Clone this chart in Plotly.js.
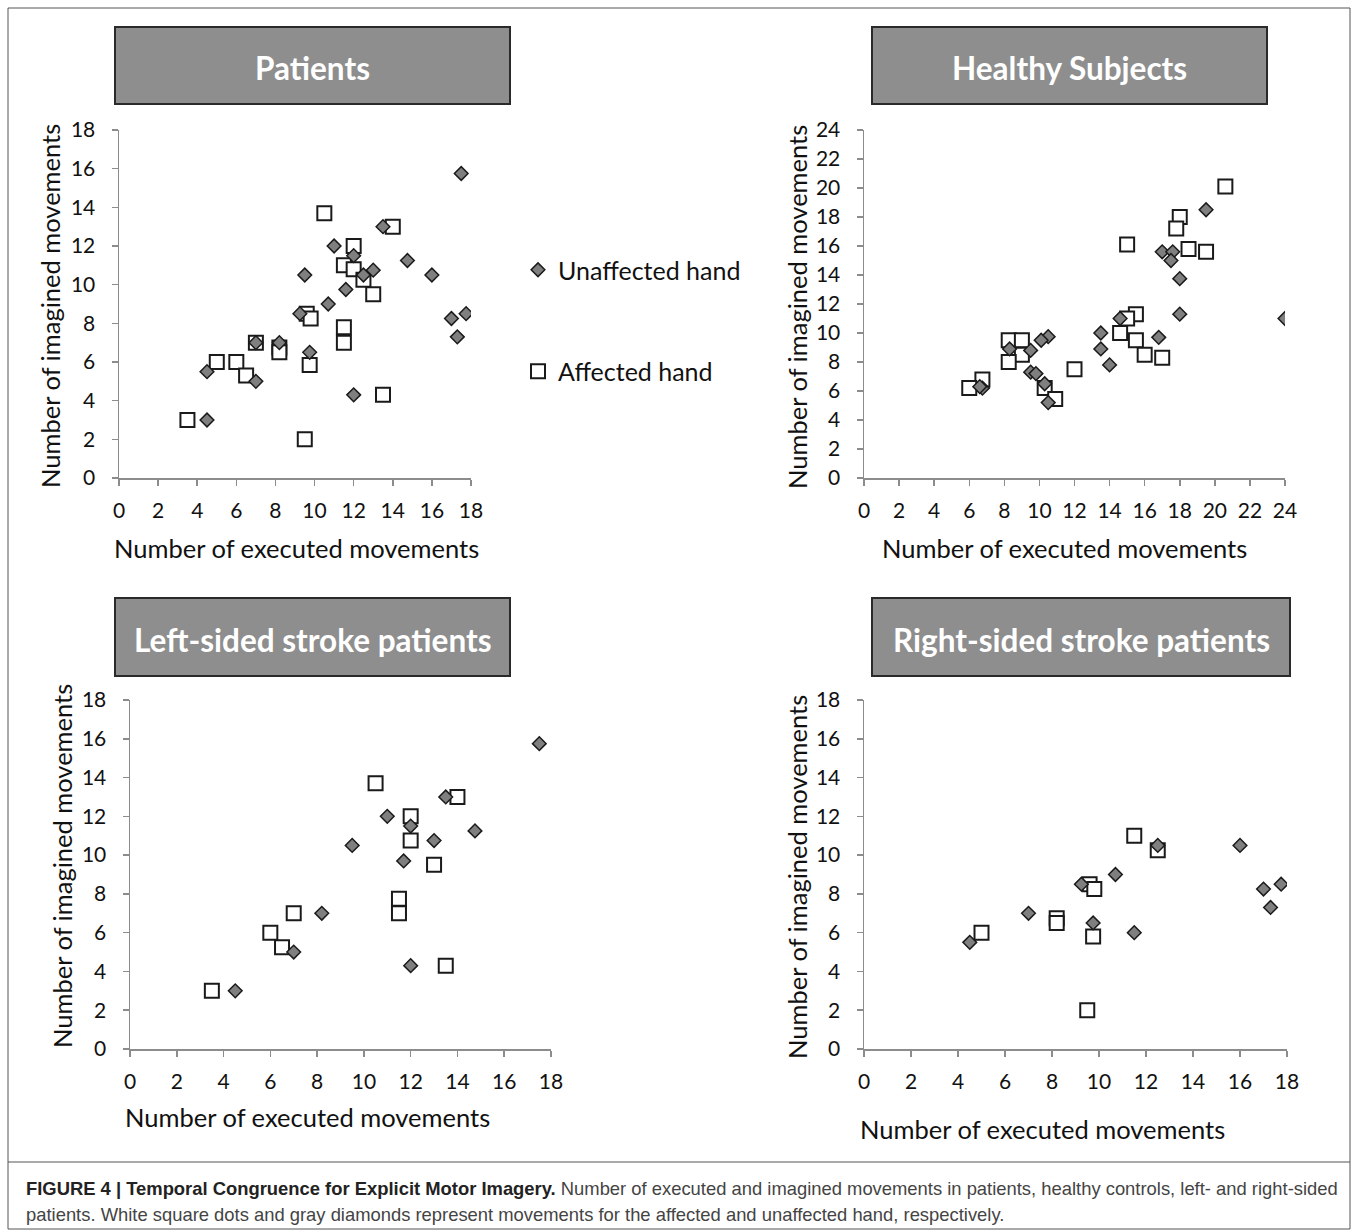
<!DOCTYPE html>
<html>
<head>
<meta charset="utf-8">
<script src="https://cdn.plot.ly/plotly-3.0.1.min.js"></script>
<style>html,body{margin:0;padding:0;background:#fff;}#chart{width:1357px;height:1230px;}</style>
</head>
<body>
<div id="chart"></div>
<script>
// ---------- DATA ----------
const panelTitles = ["Patients", "Healthy Subjects", "Left-sided stroke patients", "Right-sided stroke patients"];
const seriesNames = ["Unaffected hand", "Affected hand"];
const xAxisTitle = "Number of executed movements";
const yAxisTitle = "Number of imagined movements";

// Patients
const patUnaffX = [17.5, 13.5, 11, 12, 14.75, 13, 12.5, 9.5, 16, 11.6, 10.7, 9.25, 17.75, 17, 17.3, 7, 8.2, 9.75, 4.5, 7, 12, 4.5];
const patUnaffY = [15.75, 13, 12, 11.5, 11.25, 10.75, 10.5, 10.5, 10.5, 9.75, 9, 8.5, 8.5, 8.25, 7.3, 7, 7, 6.5, 5.5, 5, 4.3, 3];
const patAffX = [10.5, 14, 12, 11.5, 12, 12.5, 13, 9.6, 9.8, 11.5, 11.5, 7, 8.2, 8.2, 5, 6, 6.5, 9.75, 13.5, 3.5, 9.5];
const patAffY = [13.7, 13, 12, 11, 10.8, 10.25, 9.5, 8.5, 8.25, 7.8, 7, 7, 6.75, 6.5, 6, 6, 5.3, 5.85, 4.3, 3, 2];

// Healthy subjects
const healUnaffX = [24, 19.5, 17, 17.6, 17.5, 18, 18, 16.8, 14.6, 13.5, 13.5, 14, 10.5, 10.1, 9.5, 8.3, 9.5, 9.8, 10.3, 10.5, 6.75, 6.6];
const healUnaffY = [11, 18.5, 15.6, 15.6, 15, 13.75, 11.3, 9.7, 11, 10, 8.9, 7.8, 9.75, 9.5, 8.8, 8.9, 7.3, 7.2, 6.5, 5.2, 6.2, 6.3];
const healAffX = [20.6, 18, 17.8, 15, 18.5, 19.5, 15.5, 15, 14.6, 15.5, 16, 17, 12, 8.25, 9, 9, 8.25, 6.75, 6, 10.3, 10.9];
const healAffY = [20.1, 18, 17.2, 16.1, 15.8, 15.6, 11.3, 11, 10, 9.5, 8.5, 8.3, 7.5, 9.5, 9.5, 8.5, 8, 6.8, 6.2, 6.2, 5.45];

// Left-sided stroke patients
const leftUnaffX = [17.5, 13.5, 11, 12, 14.75, 13, 9.5, 11.7, 8.2, 7, 12, 4.5];
const leftUnaffY = [15.75, 13, 12, 11.5, 11.25, 10.75, 10.5, 9.7, 7, 5, 4.3, 3];
const leftAffX = [10.5, 14, 12, 12, 13, 11.5, 11.5, 7, 6, 6.5, 13.5, 3.5];
const leftAffY = [13.7, 13, 12, 10.75, 9.5, 7.75, 7, 7, 6, 5.25, 4.3, 3];

// Right-sided stroke patients
const rightUnaffX = [16, 17, 17.75, 17.3, 12.5, 10.7, 9.25, 7, 9.75, 11.5, 4.5];
const rightUnaffY = [10.5, 8.25, 8.5, 7.3, 10.5, 9, 8.5, 7, 6.5, 6, 5.5];
const rightAffX = [11.5, 12.5, 9.6, 9.8, 8.2, 8.2, 5, 9.75, 9.5];
const rightAffY = [11, 10.25, 8.5, 8.25, 6.75, 6.5, 6, 5.8, 2];

const axisMax = [18, 24, 18, 18];

const captionBold = "FIGURE 4 | Temporal Congruence for Explicit Motor Imagery.";
const captionLine1 = " Number of executed and imagined movements in patients, healthy controls, left- and right-sided";
const captionLine2 = "patients. White square dots and gray diamonds represent movements for the affected and unaffected hand, respectively.";

// ---------- LAYOUT HELPERS ----------
const W = 1357, H = 1230;
const fx = p => p / W;
const fy = p => 1 - p / H;
const FONT = "Lato, 'Open Sans', sans-serif";

// plot areas in px: [left, right, top, bottom]
const boxes = [
  [119, 471, 130, 478],
  [864, 1285, 130, 478],
  [130, 551, 700, 1049],
  [864, 1287, 700, 1049]
];
const titleBoxes = [
  [115, 510, 27, 104],
  [872, 1267, 27, 104],
  [115, 510, 598, 676],
  [872, 1290, 598, 676]
];
const yTitlePos = [[50, 306], [797, 307], [62, 866], [797, 877]];
const xTitlePos = [[296, 548], [1064, 548], [307, 1117], [1042, 1129]];

const data = [];
const sets = [
  [patAffX, patAffY, patUnaffX, patUnaffY],
  [healAffX, healAffY, healUnaffX, healUnaffY],
  [leftAffX, leftAffY, leftUnaffX, leftUnaffY],
  [rightAffX, rightAffY, rightUnaffX, rightUnaffY]
];
sets.forEach((s, i) => {
  const xa = i === 0 ? 'x' : 'x' + (i + 1);
  const ya = i === 0 ? 'y' : 'y' + (i + 1);
  data.push({
    type: 'scatter', mode: 'markers', x: s[0], y: s[1], xaxis: xa, yaxis: ya,
    name: seriesNames[1], showlegend: i === 0, legendgroup: 'aff', legendrank: 2,
    marker: {symbol: 'square', size: 14, color: '#ffffff', line: {color: '#1a1a1a', width: 2}},
    hoverinfo: 'x+y'
  });
  data.push({
    type: 'scatter', mode: 'markers', x: s[2], y: s[3], xaxis: xa, yaxis: ya,
    name: seriesNames[0], showlegend: i === 0, legendgroup: 'unaff', legendrank: 1,
    marker: {symbol: 'diamond', size: 10.5, color: '#7f7f7f', line: {color: '#1a1a1a', width: 1.5}},
    hoverinfo: 'x+y'
  });
});

const layout = {
  width: W, height: H,
  margin: {l: 0, r: 0, t: 0, b: 0},
  paper_bgcolor: '#ffffff', plot_bgcolor: '#ffffff',
  font: {family: FONT, color: '#111111'},
  showlegend: true,
  legend: {
    x: fx(518), y: fy(247), xanchor: 'left', yanchor: 'top',
    font: {family: FONT, size: 25, color: '#111111'},
    tracegroupgap: 66, bgcolor: 'rgba(0,0,0,0)', itemclick: false, itemdoubleclick: false
  },
  shapes: [],
  annotations: []
};

boxes.forEach((b, i) => {
  const sx = i === 0 ? 'xaxis' : 'xaxis' + (i + 1);
  const sy = i === 0 ? 'yaxis' : 'yaxis' + (i + 1);
  const common = {
    range: [0, axisMax[i]], dtick: 2, tick0: 0, showline: true, linecolor: '#8c8c8c', linewidth: 1.5,
    ticks: 'outside', ticklen: 6, tickwidth: 1.5, tickcolor: '#8c8c8c', showgrid: false, zeroline: false,
    tickfont: {family: FONT, size: 21, color: '#111111'}, fixedrange: true
  };
  layout[sx] = Object.assign({}, common, {
    domain: [fx(b[0]), fx(b[1])], anchor: i === 0 ? 'y' : 'y' + (i + 1), ticklabelstandoff: 7
  });
  layout[sy] = Object.assign({}, common, {
    domain: [fy(b[3]), fy(b[2])], anchor: i === 0 ? 'x' : 'x' + (i + 1), ticklabelstandoff: 12
  });
  const t = titleBoxes[i];
  layout.shapes.push({
    type: 'rect', xref: 'paper', yref: 'paper', x0: fx(t[0]), x1: fx(t[1]), y0: fy(t[3]), y1: fy(t[2]),
    fillcolor: '#8e8e8e', line: {color: '#2a2a2a', width: 2}, layer: 'below'
  });
  layout.annotations.push({
    xref: 'paper', yref: 'paper', x: fx((t[0] + t[1]) / 2), y: fy((t[2] + t[3]) / 2 + 3),
    xanchor: 'center', yanchor: 'middle', showarrow: false, text: '<b>' + panelTitles[i] + '</b>',
    font: {family: FONT, size: 31.5, color: '#ffffff'}
  });
  layout.annotations.push({
    xref: 'paper', yref: 'paper', x: fx(yTitlePos[i][0]), y: fy(yTitlePos[i][1]),
    xanchor: 'center', yanchor: 'middle', showarrow: false, textangle: -90, text: yAxisTitle,
    font: {family: FONT, size: 25.5, color: '#111111'}
  });
  layout.annotations.push({
    xref: 'paper', yref: 'paper', x: fx(xTitlePos[i][0]), y: fy(xTitlePos[i][1]),
    xanchor: 'center', yanchor: 'middle', showarrow: false, text: xAxisTitle,
    font: {family: FONT, size: 25.5, color: '#111111'}
  });
});

// frame and caption separator
layout.shapes.push({type: 'rect', xref: 'paper', yref: 'paper', x0: fx(8), x1: fx(1350), y0: fy(1229), y1: fy(8),
  fillcolor: 'rgba(0,0,0,0)', line: {color: '#555555', width: 1}, layer: 'below'});
layout.shapes.push({type: 'line', xref: 'paper', yref: 'paper', x0: fx(8), x1: fx(1350), y0: fy(1162), y1: fy(1162),
  line: {color: '#555555', width: 1}, layer: 'below'});

const CAPFONT = "'Liberation Sans Narrow', 'Arial Narrow', 'Liberation Sans', sans-serif";
layout.annotations.push({
  xref: 'paper', yref: 'paper', x: fx(24), y: fy(1188), xanchor: 'left', yanchor: 'middle', showarrow: false, align: 'left',
  text: '<b>' + captionBold + '</b><span style="color:#444444">' + captionLine1 + '</span>',
  font: {family: CAPFONT, size: 18.4, color: '#222222'}
});
layout.annotations.push({
  xref: 'paper', yref: 'paper', x: fx(24), y: fy(1214), xanchor: 'left', yanchor: 'middle', showarrow: false, align: 'left',
  text: captionLine2, font: {family: CAPFONT, size: 18.4, color: '#444444'}
});

Plotly.newPlot('chart', data, layout, {displayModeBar: false, staticPlot: true});
</script>
</body>
</html>
